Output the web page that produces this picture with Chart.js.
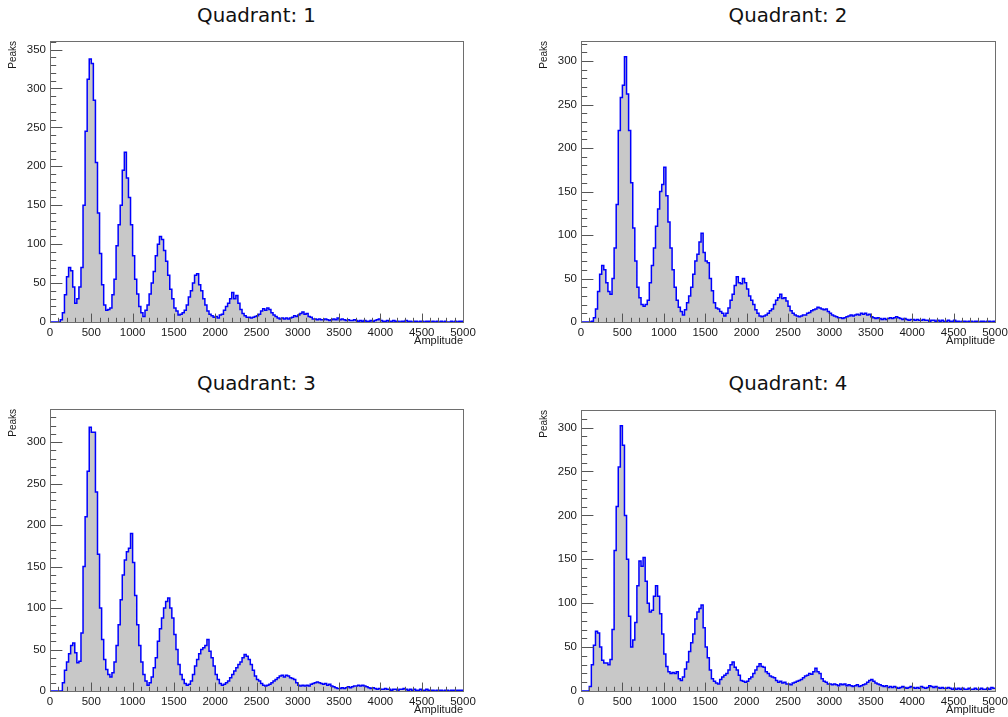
<!DOCTYPE html>
<html>
<head>
<meta charset="utf-8">
<script src="https://cdn.jsdelivr.net/npm/chart.js@4.4.1/dist/chart.umd.min.js"></script>
<style>
  body { margin: 0; background: #fff; width: 1008px; height: 717px; overflow: hidden; position: relative; }
  .title { position: absolute; font-family: 'DejaVu Sans', sans-serif; font-size: 19.8px; color: #111;
           transform: translate(-50%, -50%); white-space: nowrap; }
  .pane { position: absolute; overflow: hidden; }
  .pane canvas { position: absolute; left: 0; top: 0; }
</style>
</head>
<body>
<script>
// Histogrammes d'amplitude, bins de 25 sur 0..5000 (200 bins par quadrant)
const BIN_WIDTH = 25;
const X_MAX = 5000;
const X_MAJOR = 500, X_MINOR = 100;
const Y_MAJOR = 50, Y_MINOR = 10;

const quadrantTitles = ['Quadrant: 1', 'Quadrant: 2', 'Quadrant: 3', 'Quadrant: 4'];
const yMaxima = [361, 323, 340, 320];

const q1Values = [
  0,0,0,0,0,3,12,35,58,70,66,45,24,30,45,70,150,245,312,338,
  332,285,205,140,88,48,22,15,16,18,35,55,98,125,150,195,218,185,160,125,
  85,55,36,20,12,7,15,22,36,50,65,85,100,110,106,92,78,60,42,30,
  18,14,9,10,12,15,22,32,40,50,60,62,48,40,30,22,14,10,8,6,
  7,5,9,10,15,20,24,30,38,30,34,24,16,11,8,6,6,5,6,7,
  8,10,14,17,15,18,16,12,9,7,5,4,5,4,5,4,5,6,8,7,
  9,11,13,10,11,7,6,4,4,3,4,3,3,4,3,2,3,4,3,5,
  3,4,3,2,3,2,2,3,2,1,2,1,2,1,1,2,1,2,3,4,
  2,1,1,2,1,1,2,1,1,0,1,1,2,1,1,0,1,1,0,1,
  1,0,1,1,0,1,0,1,0,1,0,1,0,0,1,0,1,0,1,1
];

const q2Values = [
  0,0,0,0,0,1,5,15,35,55,65,60,45,35,32,50,85,135,220,258,
  272,305,262,220,160,108,70,40,28,20,18,20,25,45,65,85,110,130,150,158,
  178,145,115,85,60,40,25,17,12,8,14,22,30,40,55,70,78,92,102,80,
  70,68,50,36,22,16,15,12,10,7,10,16,25,32,42,52,45,44,50,45,
  38,30,25,20,14,10,7,6,7,8,10,13,15,20,25,28,32,27,28,24,
  18,13,10,8,7,6,7,8,8,10,11,13,14,15,17,16,15,14,15,12,
  10,8,7,6,5,5,4,5,6,7,8,7,8,9,8,10,9,10,8,9,
  6,5,4,5,4,3,4,3,4,5,4,5,6,5,4,3,4,3,2,3,
  3,2,3,2,2,3,2,2,1,2,2,1,2,1,2,1,1,2,1,1,
  2,1,1,0,1,1,0,1,1,0,1,1,0,1,1,0,1,1,0,1
];

const q3Values = [
  0,0,0,0,0,0,10,25,35,45,55,58,46,34,36,70,150,210,265,318,
  312,312,240,165,100,62,38,26,20,17,22,35,55,80,110,140,158,168,172,190,
  155,115,80,55,35,20,12,7,10,17,28,40,60,75,88,100,108,112,100,88,
  68,50,32,20,14,9,7,8,12,20,30,38,45,50,52,55,62,48,40,30,
  20,14,9,7,8,10,12,16,20,24,28,32,35,40,44,42,38,32,25,18,
  14,12,9,7,6,7,8,10,12,14,16,18,19,17,19,18,16,15,14,10,
  7,6,7,6,7,6,8,9,10,11,10,9,8,9,7,8,6,5,4,3,
  3,4,3,4,5,4,5,6,6,7,6,7,6,5,4,3,4,3,2,3,
  2,2,3,2,2,1,2,2,1,2,2,3,2,1,2,1,2,1,1,2,
  1,1,2,1,1,1,0,1,1,1,0,1,1,0,1,1,0,1,1,1
];

const q4Values = [
  0,0,0,0,5,30,52,68,66,50,35,32,32,30,36,70,160,210,255,302,
  280,200,150,85,50,58,78,120,148,142,152,125,100,90,92,108,120,108,88,65,
  42,28,22,20,21,20,22,14,12,16,25,33,45,55,65,82,90,94,98,72,
  50,38,24,14,11,9,8,13,16,18,20,24,30,33,27,24,18,12,11,10,
  11,14,16,20,24,28,31,28,27,22,20,17,16,15,12,10,11,9,10,8,
  8,7,9,10,11,12,13,15,17,18,20,19,22,26,22,20,14,11,10,8,
  8,7,8,7,6,8,7,8,6,7,6,5,6,7,5,6,7,8,10,12,
  13,11,9,8,7,6,5,6,4,5,4,5,4,3,4,5,4,3,4,5,
  4,3,4,3,5,4,3,4,6,5,4,5,4,3,4,3,3,4,3,2,
  3,2,3,2,3,2,2,3,2,2,3,2,2,3,2,2,3,2,4,3
];

const quadrantValues = [q1Values, q2Values, q3Values, q4Values];

// placement : cadre (frame) en coordonnées page, boîte = zone visible
const layouts = [
  { box: { left: 0,   top: 0,   w: 504, h: 346 }, canvas: { w: 504, h: 370 }, frame: { L: 50,  T: 41,  R: 463, B: 322 }, titleY: 15 },
  { box: { left: 504, top: 0,   w: 504, h: 346 }, canvas: { w: 520, h: 370 }, frame: { L: 581, T: 41,  R: 995, B: 322 }, titleY: 15 },
  { box: { left: 0,   top: 368, w: 504, h: 349 }, canvas: { w: 504, h: 370 }, frame: { L: 50,  T: 409, R: 463, B: 691 }, titleY: 383 },
  { box: { left: 504, top: 368, w: 504, h: 349 }, canvas: { w: 520, h: 370 }, frame: { L: 581, T: 410, R: 995, B: 691 }, titleY: 383 }
];

const Y_AXIS_W = 50, X_AXIS_H = 28;

function histPoints(values) {
  const pts = values.map((v, i) => ({ x: i * BIN_WIDTH, y: v }));
  pts.push({ x: values.length * BIN_WIDTH, y: values[values.length - 1] });
  return pts;
}

// cadre + graduations façon ROOT (vers l'intérieur)
const rootAxes = {
  id: 'rootAxes',
  afterDatasetsDraw(chart) {
    const { ctx, chartArea: a, scales: { x, y } } = chart;
    const yLen = 0.03 * (a.right - a.left);
    const xLen = 0.03 * (a.bottom - a.top);
    ctx.save();
    ctx.strokeStyle = '#555';
    ctx.lineWidth = 1;
    ctx.beginPath();
    for (let v = 0; v <= y.max; v += Y_MINOR) {
      const py = Math.round(y.getPixelForValue(v)) + 0.5;
      const len = v % Y_MAJOR === 0 ? yLen : yLen / 2;
      ctx.moveTo(a.left, py); ctx.lineTo(a.left + len, py);
    }
    for (let v = 0; v <= x.max; v += X_MINOR) {
      const px = Math.round(x.getPixelForValue(v)) + 0.5;
      const len = v % X_MAJOR === 0 ? xLen : xLen / 2;
      ctx.moveTo(px, a.bottom); ctx.lineTo(px, a.bottom - len);
    }
    ctx.stroke();
    ctx.strokeStyle = '#6e6e6e';
    ctx.strokeRect(Math.round(a.left) + 0.5, Math.round(a.top) + 0.5,
                   Math.round(a.right - a.left), Math.round(a.bottom - a.top));
    ctx.restore();
  }
};

quadrantTitles.forEach((title, i) => {
  const lay = layouts[i];
  const f = lay.frame;

  const t = document.createElement('div');
  t.className = 'title';
  t.textContent = title;
  t.style.left = ((f.L + f.R) / 2) + 'px';
  t.style.top = lay.titleY + 'px';
  document.body.appendChild(t);

  const pane = document.createElement('div');
  pane.className = 'pane';
  Object.assign(pane.style, { left: lay.box.left + 'px', top: lay.box.top + 'px',
                              width: lay.box.w + 'px', height: lay.box.h + 'px' });
  const canvas = document.createElement('canvas');
  canvas.width = lay.canvas.w;
  canvas.height = lay.canvas.h;
  pane.appendChild(canvas);
  document.body.appendChild(pane);

  const padding = {
    left: f.L - lay.box.left - Y_AXIS_W,
    top: f.T - lay.box.top,
    right: lay.canvas.w - (f.R - lay.box.left),
    bottom: lay.canvas.h - (f.B - lay.box.top) - X_AXIS_H
  };

  const tickFont = { family: "'Liberation Sans', Arial, sans-serif", size: 11.5 };

  new Chart(canvas.getContext('2d'), {
    type: 'line',
    data: {
      datasets: [{
        data: histPoints(quadrantValues[i]),
        stepped: true,
        borderColor: '#0000ff',
        borderWidth: 1.5,
        backgroundColor: '#c8c8c8',
        fill: 'origin',
        pointRadius: 0
      }]
    },
    options: {
      responsive: false,
      animation: false,
      devicePixelRatio: 1,
      layout: { padding },
      plugins: { legend: { display: false }, tooltip: { enabled: false } },
      scales: {
        x: {
          type: 'linear', min: 0, max: X_MAX,
          grid: { display: false, drawTicks: false },
          border: { display: false },
          ticks: { stepSize: X_MAJOR, includeBounds: false, autoSkip: false, maxRotation: 0,
                   padding: 4, color: '#1a1a1a', font: tickFont, callback: v => String(v) },
          title: { display: true, text: 'Amplitude', align: 'end', color: '#1a1a1a',
                   font: { family: tickFont.family, size: 11 }, padding: { top: 0, bottom: 2 } },
          afterFit(s) { s.height = X_AXIS_H; }
        },
        y: {
          min: 0, max: yMaxima[i],
          grid: { display: false, drawTicks: false },
          border: { display: false },
          ticks: { stepSize: Y_MAJOR, includeBounds: false, padding: 4, color: '#1a1a1a',
                   font: tickFont, callback: v => String(v) },
          title: { display: true, text: 'Peaks', align: 'end', color: '#1a1a1a',
                   font: { family: tickFont.family, size: 10 }, padding: { top: 7, bottom: 0 } },
          afterFit(s) { s.width = Y_AXIS_W; }
        }
      }
    },
    plugins: [rootAxes]
  });
});
</script>
</body>
</html>
